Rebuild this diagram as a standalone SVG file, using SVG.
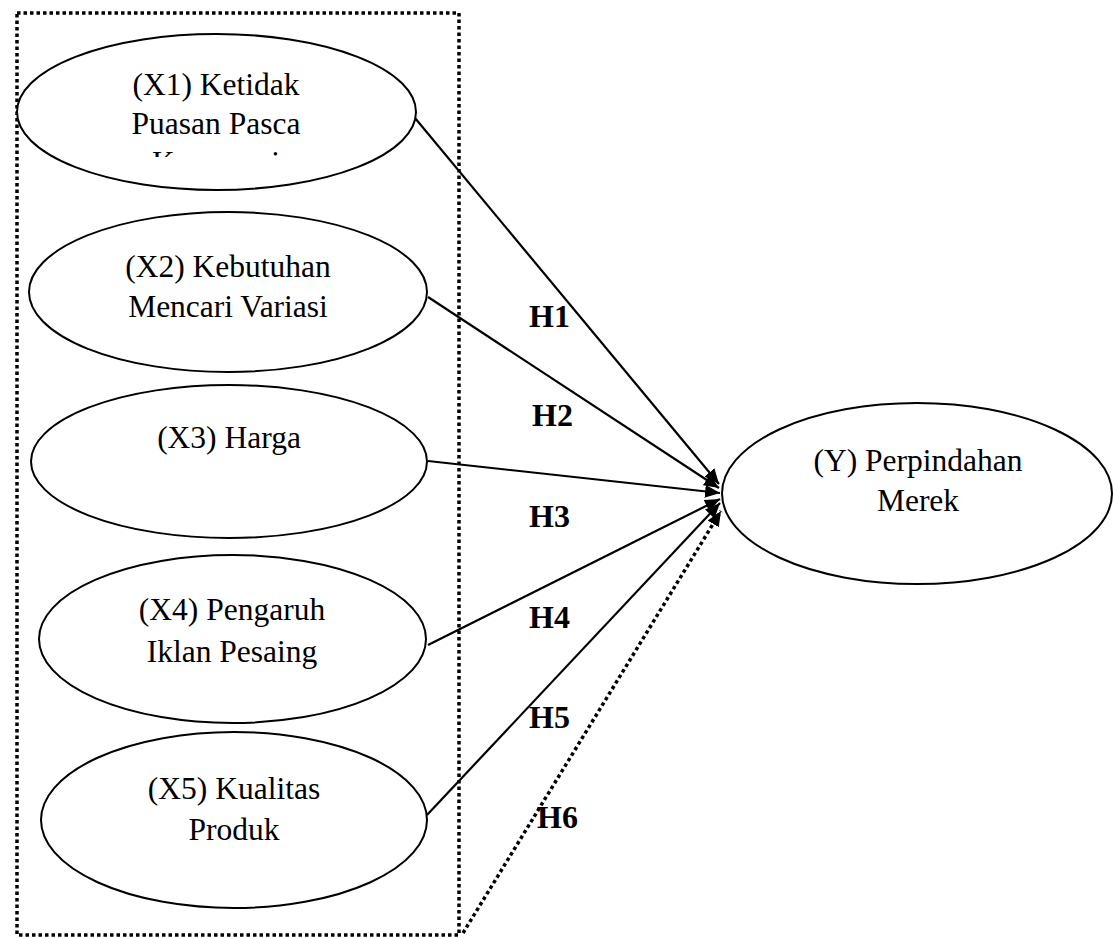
<svg xmlns="http://www.w3.org/2000/svg" width="1113" height="938" viewBox="0 0 1113 938">
<style>
.node{fill:#fff;stroke:#000;stroke-width:2}
.t{font-family:"Liberation Serif","Times New Roman",serif;font-size:31.5px;fill:#000;text-anchor:middle}
.h{font-family:"Liberation Serif","Times New Roman",serif;font-size:32px;font-weight:bold;fill:#000}
.c{stroke:#000;stroke-width:2.2;fill:none}
.dot{stroke:#000;stroke-width:3.5;fill:none;stroke-dasharray:3.5 3}
</style>
<defs>
<marker id="arr" markerUnits="userSpaceOnUse" markerWidth="18" markerHeight="14" refX="15" refY="6.5" orient="auto">
<path d="M0,0 L15,6.5 L0,13 Z" fill="#000"/>
</marker>
<clipPath id="clipX1"><rect x="0" y="0" width="470" height="157"/></clipPath>
</defs>
<rect id="frame" class="dot" x="17" y="13" width="442" height="922"/>
<g id="connectors">
<line class="c" x1="415" y1="118" x2="719" y2="484" marker-end="url(#arr)"/>
<line class="c" x1="428" y1="297" x2="719" y2="488" marker-end="url(#arr)"/>
<line class="c" x1="428" y1="461" x2="720" y2="493" marker-end="url(#arr)"/>
<line class="c" x1="428" y1="645" x2="720" y2="499" marker-end="url(#arr)"/>
<line class="c" x1="427" y1="815" x2="720" y2="503" marker-end="url(#arr)"/>
<line class="dot" x1="463" y1="933" x2="721" y2="511" marker-end="url(#arr)"/>
<text class="h" x="529" y="327">H1</text>
<text class="h" x="532" y="426">H2</text>
<text class="h" x="529" y="527">H3</text>
<text class="h" x="529" y="628">H4</text>
<text class="h" x="529" y="728">H5</text>
<text class="h" x="537" y="828">H6</text>
</g>
<g id="X1">
<ellipse class="node" cx="216.5" cy="112" rx="199.5" ry="78"/>
<g clip-path="url(#clipX1)">
<text class="t" x="216" y="95">(X1) Ketidak</text>
<text class="t" x="216" y="134">Puasan Pasca</text>
<text class="t" x="216" y="173">Konsumsi</text>
</g>
</g>
<g id="X2">
<ellipse class="node" cx="228" cy="292" rx="199" ry="80"/>
<text class="t" x="228" y="277">(X2) Kebutuhan</text>
<text class="t" x="228" y="317">Mencari Variasi</text>
</g>
<g id="X3">
<ellipse class="node" cx="229" cy="461.5" rx="198" ry="76.5"/>
<text class="t" x="229" y="448">(X3) Harga</text>
</g>
<g id="X4">
<ellipse class="node" cx="232.5" cy="639" rx="193.5" ry="84"/>
<text class="t" x="232" y="620">(X4) Pengaruh</text>
<text class="t" x="232" y="662">Iklan Pesaing</text>
</g>
<g id="X5">
<ellipse class="node" cx="234" cy="820" rx="193" ry="88"/>
<text class="t" x="234" y="799">(X5) Kualitas</text>
<text class="t" x="234" y="840">Produk</text>
</g>
<g id="Y">
<ellipse class="node" cx="917" cy="493.5" rx="195" ry="90.5"/>
<text class="t" x="918" y="471">(Y) Perpindahan</text>
<text class="t" x="918" y="511">Merek</text>
</g>
</svg>
